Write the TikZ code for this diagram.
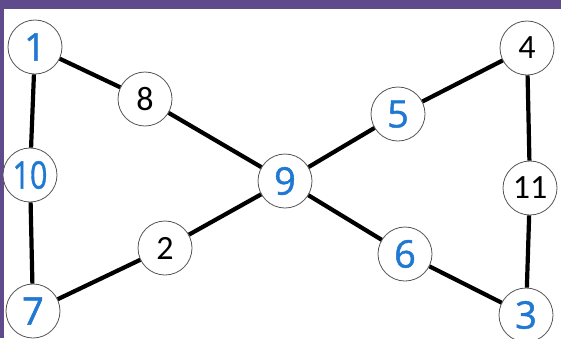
\documentclass[tikz,border=0pt]{standalone}
\usepackage{fontspec}
\usepackage{graphicx}
\setmainfont{Open Sans}
\newfontfamily\handfont{Open Sans}[FakeBold=1.2]
\newfontfamily\printfont{Carlito}
\definecolor{frame}{HTML}{5F4B8B}
\definecolor{ink}{HTML}{1F78D1}
\definecolor{rim}{HTML}{555555}
\begin{document}
\begin{tikzpicture}[x=1pt,y=-1pt,
  vtx/.style={circle,draw=rim,line width=0.8pt,fill=white,minimum size=54pt,inner sep=0pt},
  hand/.style={vtx,text=ink,font=\handfont\fontsize{38}{38}\selectfont},
  typed/.style={vtx,text=black,font=\printfont\fontsize{34}{34}\selectfont},
  edge/.style={line width=4.2pt,black}]
\useasboundingbox (0,0) rectangle (561,338);
\fill[white] (0,0) rectangle (561,338);
\fill[frame] (0,0) rectangle (561,9);
\fill[frame] (0,0) rectangle (3.5,338);
\node[hand]  (n1)  at (35,47)   {1};
\node[hand]  (n10) at (30,175)  {\scalebox{0.8}[1]{10}};
\node[hand]  (n7)  at (33,311)  {7};
\node[typed] (n8)  at (145,99)  {8};
\node[typed] (n2)  at (165,248) {2};
\node[hand]  (n9)  at (285,181) {9};
\node[hand]  (n5)  at (398,114) {5};
\node[typed] (n4)  at (527,48)  {4};
\node[typed] (n11) at (530,188) {11};
\node[hand]  (n6)  at (405,254) {6};
\node[hand]  (n3)  at (526,315) {3};
\draw[edge] (n1) -- (n8);
\draw[edge] (n8) -- (n9);
\draw[edge] (n9) -- (n5);
\draw[edge] (n5) -- (n4);
\draw[edge] (n4) -- (n11);
\draw[edge] (n11) -- (n3);
\draw[edge] (n3) -- (n6);
\draw[edge] (n6) -- (n9);
\draw[edge] (n9) -- (n2);
\draw[edge] (n2) -- (n7);
\draw[edge] (n7) -- (n10);
\draw[edge] (n10) -- (n1);
\end{tikzpicture}
\end{document}
